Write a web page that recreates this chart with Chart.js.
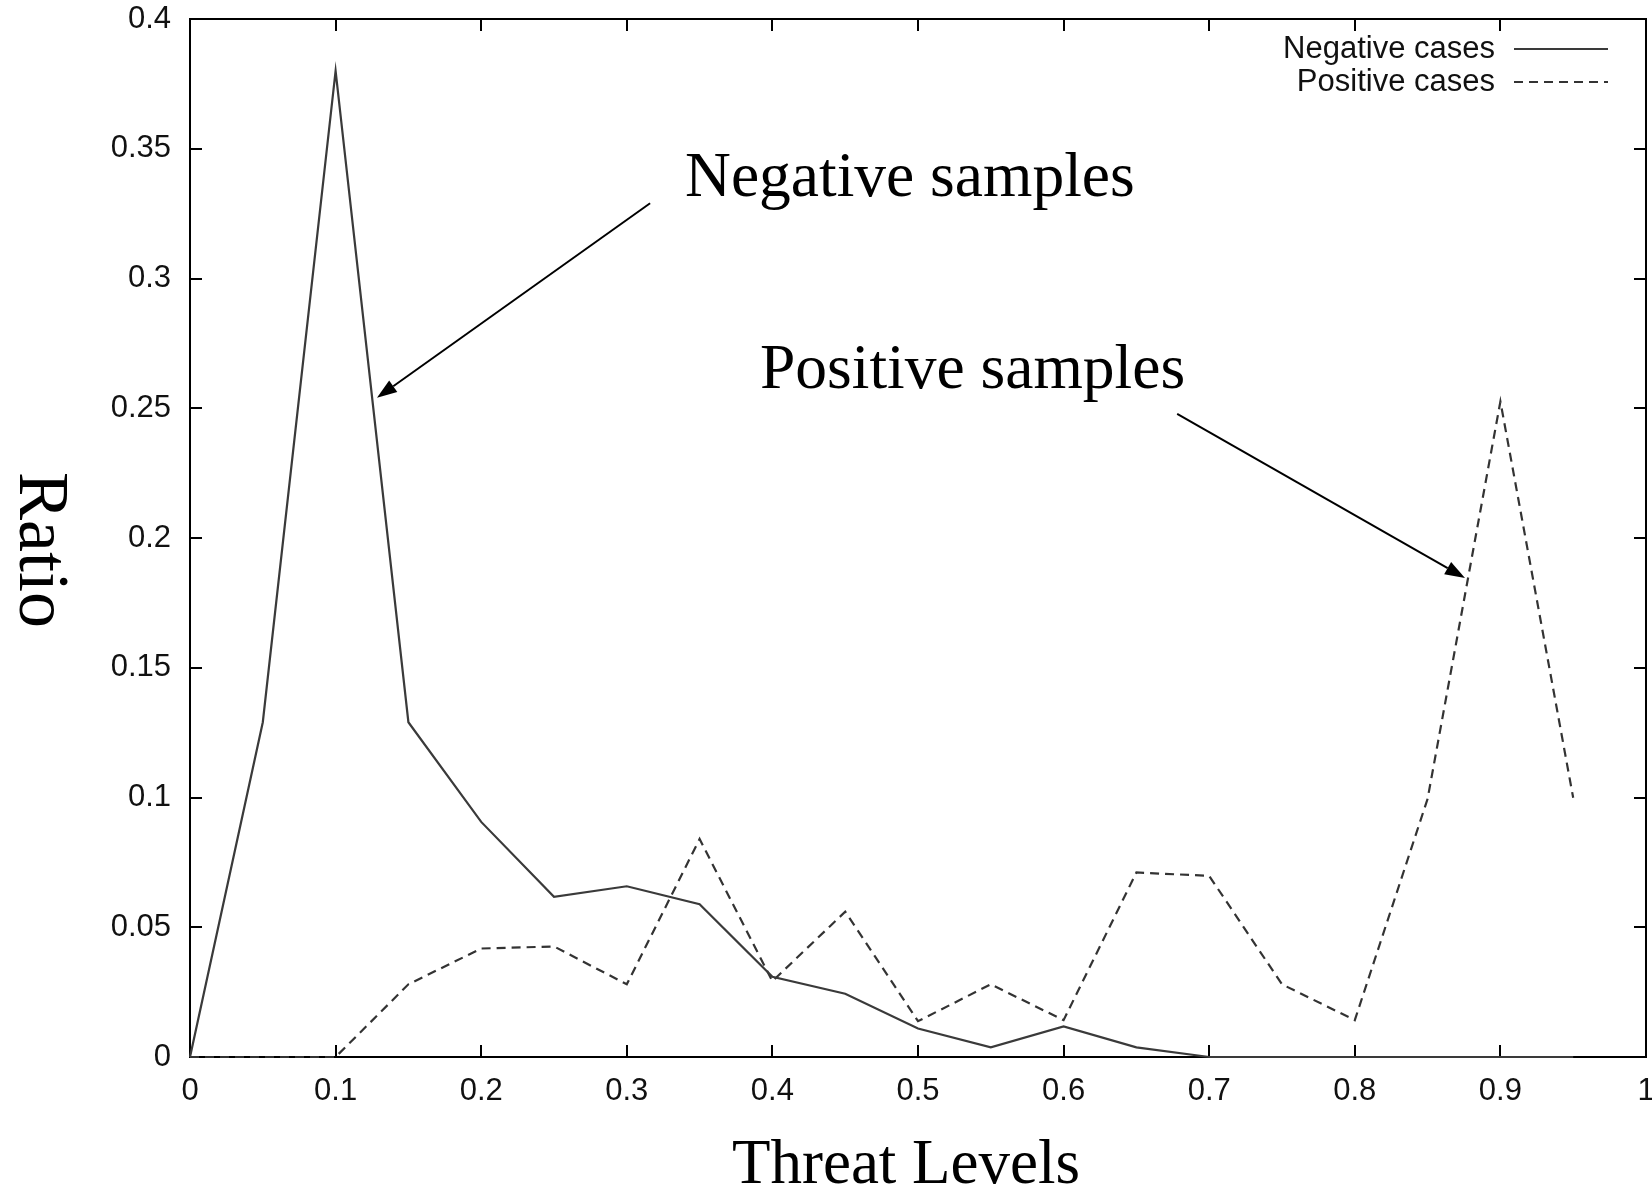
<!DOCTYPE html>
<html>
<head>
<meta charset="utf-8">
<script src="https://cdn.jsdelivr.net/npm/chart.js@4.4.1/dist/chart.umd.min.js"></script>
<style>
    html, body { margin: 0; padding: 0; background: #ffffff; }
    #wrap { width: 1652px; height: 1188px; position: relative; }
</style>
</head>
<body>
<div id="wrap"><canvas id="threatChart"></canvas></div>
<script>
// threat levels on the x axis
const threatLevels = [0, 0.05, 0.1, 0.15, 0.2, 0.25, 0.3, 0.35, 0.4, 0.45, 0.5, 0.55, 0.6, 0.65, 0.7, 0.75, 0.8, 0.85, 0.9, 0.95];
const negativeRatio = [0, 0.129, 0.380, 0.129, 0.0906, 0.0617, 0.0658, 0.0589, 0.0309, 0.0244, 0.011, 0.0037, 0.0118, 0.0037, 0, 0, 0, 0, 0, 0];
const positiveRatio = [0, 0, 0, 0.028, 0.0418, 0.0426, 0.028, 0.084, 0.0292, 0.056, 0.0138, 0.028, 0.0142, 0.0711, 0.0698, 0.028, 0.0142, 0.0995, 0.2526, 0.0999];

const seriesLabels = ['Negative cases', 'Positive cases'];
const xTitle = 'Threat Levels';
const yTitle = 'Ratio';

// arrows + notes, in data units [text, textX, textY, tailX, tailY, tipX, tipY]
const notes = [
    ['Negative samples', 0.340, 0.3318, 0.316, 0.329, 0.1284, 0.254],
    ['Positive samples', 0.3915, 0.2578, 0.678, 0.2478, 0.8757, 0.1846]
];

const SANS = '"Liberation Sans", Arial, Helvetica, sans-serif';
const SERIF = '"Liberation Serif", "Times New Roman", serif';

function toPoints(values) {
    return threatLevels.map((x, i) => ({ x: x, y: values[i] }));
}

function fmt(v) {
    return String(+v.toFixed(2));
}

// frame with inward ticks on all four sides
const framePlugin = {
    id: 'frame',
    beforeDatasetsDraw(chart) {
        const { ctx, chartArea: a, scales } = chart;
        const len = 12;
        ctx.save();
        ctx.strokeStyle = '#000';
        ctx.lineWidth = 2;
        ctx.strokeRect(a.left, a.top, a.right - a.left, a.bottom - a.top);
        ctx.beginPath();
        scales.x.ticks.forEach(t => {
            const px = Math.round(scales.x.getPixelForValue(t.value));
            ctx.moveTo(px, a.bottom); ctx.lineTo(px, a.bottom - len);
            ctx.moveTo(px, a.top); ctx.lineTo(px, a.top + len);
        });
        scales.y.ticks.forEach(t => {
            const py = Math.round(scales.y.getPixelForValue(t.value));
            ctx.moveTo(a.left, py); ctx.lineTo(a.left + len, py);
            ctx.moveTo(a.right, py); ctx.lineTo(a.right - len, py);
        });
        ctx.stroke();
        ctx.restore();
    }
};

function drawArrow(ctx, x1, y1, x2, y2) {
    const ang = Math.atan2(y2 - y1, x2 - x1);
    const head = 20, half = 7;
    const bx = x2 - head * Math.cos(ang), by = y2 - head * Math.sin(ang);
    ctx.beginPath();
    ctx.moveTo(x1, y1);
    ctx.lineTo(bx, by);
    ctx.stroke();
    ctx.beginPath();
    ctx.moveTo(x2, y2);
    ctx.lineTo(bx + half * Math.sin(ang), by - half * Math.cos(ang));
    ctx.lineTo(bx - half * Math.sin(ang), by + half * Math.cos(ang));
    ctx.closePath();
    ctx.fill();
}

const decorPlugin = {
    id: 'decor',
    afterDraw(chart) {
        const { ctx, chartArea: a, scales } = chart;
        const xs = scales.x, ys = scales.y;
        ctx.save();

        // legend, text right aligned, line sample on the right
        ctx.font = '31px ' + SANS;
        ctx.textAlign = 'right';
        ctx.textBaseline = 'middle';
        chart.data.datasets.forEach((ds, i) => {
            const y = a.top + 30 + i * 33;
            ctx.fillStyle = '#111';
            ctx.fillText(ds.label, a.right - 151, y);
            ctx.strokeStyle = ds.borderColor;
            ctx.lineWidth = 2;
            ctx.setLineDash(ds.borderDash || []);
            ctx.beginPath();
            ctx.moveTo(a.right - 132, y);
            ctx.lineTo(a.right - 38, y);
            ctx.stroke();
        });
        ctx.setLineDash([]);

        // notes with arrows
        ctx.fillStyle = '#000';
        ctx.strokeStyle = '#000';
        ctx.lineWidth = 2;
        ctx.textAlign = 'left';
        ctx.textBaseline = 'alphabetic';
        notes.forEach(n => {
            ctx.font = '63.5px ' + SERIF;
            ctx.fillText(n[0], xs.getPixelForValue(n[1]), ys.getPixelForValue(n[2]));
            drawArrow(ctx,
                xs.getPixelForValue(n[3]), ys.getPixelForValue(n[4]),
                xs.getPixelForValue(n[5]), ys.getPixelForValue(n[6]));
        });

        // axis titles
        ctx.font = '63px ' + SERIF;
        ctx.textAlign = 'center';
        ctx.fillText(xTitle, (a.left + a.right) / 2 - 12, 1183);

        ctx.translate(20, 550);
        ctx.rotate(Math.PI / 2);
        ctx.font = '72px ' + SERIF;
        ctx.fillText(yTitle, 0, 0);
        ctx.restore();
    }
};

const ctx = document.getElementById('threatChart');
new Chart(ctx, {
    type: 'line',
    data: {
        datasets: [{
            label: seriesLabels[0],
            data: toPoints(negativeRatio),
            borderColor: '#3a3a3a',
            borderWidth: 2.2,
            pointRadius: 0,
            tension: 0,
            fill: false,
            clip: false
        }, {
            label: seriesLabels[1],
            data: toPoints(positiveRatio),
            borderColor: '#333333',
            borderWidth: 2.2,
            borderDash: [9, 6],
            pointRadius: 0,
            tension: 0,
            fill: false,
            clip: false
        }]
    },
    options: {
        responsive: true,
        maintainAspectRatio: false,
        animation: false,
        layout: { autoPadding: false, padding: { top: 19, right: 6, left: 0, bottom: 0 } },
        plugins: {
            legend: { display: false },
            tooltip: { enabled: false }
        },
        scales: {
            x: {
                type: 'linear',
                min: 0,
                max: 1,
                grid: { display: false },
                border: { display: false },
                ticks: {
                    stepSize: 0.1,
                    padding: 8,
                    maxRotation: 0,
                    color: '#111',
                    font: { family: SANS, size: 31 },
                    callback: v => fmt(v)
                },
                afterFit(scale) {
                    scale.height = 131;
                    scale.paddingLeft = 0; scale.paddingRight = 0;
                    scale.paddingTop = 0; scale.paddingBottom = 0;
                }
            },
            y: {
                min: 0,
                max: 0.4,
                grid: { display: false },
                border: { display: false },
                ticks: {
                    stepSize: 0.05,
                    padding: 11,
                    color: '#111',
                    font: { family: SANS, size: 31 },
                    callback: v => fmt(v)
                },
                afterFit(scale) {
                    scale.width = 190;
                    scale.paddingLeft = 0; scale.paddingRight = 0;
                    scale.paddingTop = 0; scale.paddingBottom = 0;
                }
            }
        }
    },
    plugins: [framePlugin, decorPlugin]
});
</script>
</body>
</html>
